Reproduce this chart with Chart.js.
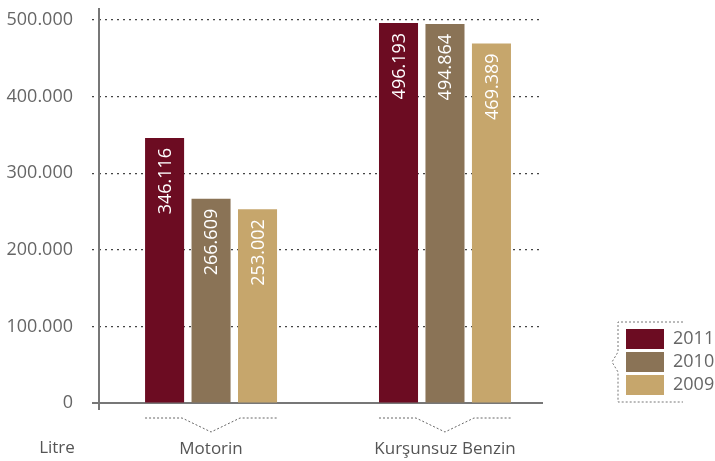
<!DOCTYPE html>
<html>
<head>
<meta charset="utf-8">
<script src="https://cdn.jsdelivr.net/npm/chart.js@4"></script>
<style>
  html, body { margin: 0; padding: 0; background: #fff; }
  #wrap { width: 715px; height: 461px; }
</style>
</head>
<body>
<div id="wrap"><canvas id="myChart" width="715" height="461"></canvas></div>
<script>
const categories = ["Motorin", "Kurşunsuz Benzin"];
const years = ["2011", "2010", "2009"];
const values2011 = [346116, 496193];
const values2010 = [266609, 494864];
const values2009 = [253002, 469389];
const yTicks = [0, 100000, 200000, 300000, 400000, 500000];
const unitLabel = "Litre";

const barColors = ["#6c0c22", "#8a7356", "#c6a66c"];
const FONT = "'Open Sans', sans-serif";

const fmt = (v) => v === 0 ? "0" : v.toLocaleString("de-DE");

const toPoints = (arr) => arr.map((v, i) => ({ x: i, y: v }));

// axis lines, labels on bars, brackets under the groups and the legend
const decor = {
  id: "decor",
  beforeDatasetsDraw(chart) {
    const { ctx, chartArea } = chart;
    const y0 = chart.scales.y.getPixelForValue(0);
    ctx.save();
    ctx.strokeStyle = "#777";
    ctx.lineWidth = 2;
    ctx.beginPath();
    ctx.moveTo(chartArea.left - 7, y0);
    ctx.lineTo(chartArea.right, y0);
    ctx.moveTo(chartArea.left, chartArea.top - 12);
    ctx.lineTo(chartArea.left, y0 + 7);
    ctx.stroke();
    ctx.restore();
  },
  afterDatasetsDraw(chart) {
    const { ctx } = chart;
    const y0 = chart.scales.y.getPixelForValue(0);
    ctx.save();
    // value labels
    ctx.fillStyle = "#fff";
    ctx.font = "18px " + FONT;
    ctx.textAlign = "right";
    ctx.textBaseline = "middle";
    chart.data.datasets.forEach((ds, di) => {
      chart.getDatasetMeta(di).data.forEach((bar, i) => {
        ctx.save();
        ctx.translate(bar.x + 1, bar.y + 10);
        ctx.rotate(-Math.PI / 2);
        ctx.fillText(fmt(ds.data[i].y), 0, 0);
        ctx.restore();
      });
    });
    // brackets
    const first = chart.getDatasetMeta(0).data;
    const last = chart.getDatasetMeta(chart.data.datasets.length - 1).data;
    ctx.strokeStyle = "#666";
    ctx.lineWidth = 1;
    ctx.setLineDash([2, 2]);
    categories.forEach((c, i) => {
      const l = first[i].x - first[i].width / 2;
      const r = last[i].x + last[i].width / 2;
      const m = chart.scales.x.getPixelForValue(i);
      const top = y0 + 15, bot = y0 + 29;
      ctx.beginPath();
      ctx.moveTo(l, top);
      ctx.lineTo(l + 37, top);
      ctx.lineTo(m, bot);
      ctx.lineTo(r - 37, top);
      ctx.lineTo(r, top);
      ctx.stroke();
    });
    ctx.restore();
  },
  afterDraw(chart) {
    const { ctx } = chart;
    ctx.save();
    // unit label
    ctx.fillStyle = "#555";
    ctx.font = "17px " + FONT;
    ctx.textAlign = "center";
    ctx.textBaseline = "middle";
    ctx.fillText(unitLabel, 57, 448);
    // legend
    const lx = 618, ly = 322, lw = 65, lh = 80;
    ctx.strokeStyle = "#777";
    ctx.lineWidth = 1;
    ctx.setLineDash([2, 2]);
    ctx.beginPath();
    ctx.moveTo(lx + lw, ly);
    ctx.lineTo(lx, ly);
    ctx.lineTo(lx, ly + 30);
    ctx.lineTo(lx - 6, ly + 40);
    ctx.lineTo(lx, ly + 50);
    ctx.lineTo(lx, ly + lh);
    ctx.lineTo(lx + lw, ly + lh);
    ctx.stroke();
    ctx.setLineDash([]);
    ctx.font = "18px " + FONT;
    ctx.textAlign = "left";
    chart.data.datasets.forEach((ds, i) => {
      const sy = 329 + i * 23;
      ctx.fillStyle = ds.backgroundColor;
      ctx.fillRect(626, sy, 38, 20);
      ctx.fillStyle = "#666";
      ctx.fillText(ds.label, 673, sy + 10);
    });
    ctx.restore();
  },
};

const ctx = document.getElementById("myChart");

const myChart = new Chart(ctx, {
  type: "bar",
  data: {
    datasets: [
      { label: years[0], data: toPoints(values2011), backgroundColor: barColors[0] },
      { label: years[1], data: toPoints(values2010), backgroundColor: barColors[1] },
      { label: years[2], data: toPoints(values2009), backgroundColor: barColors[2] },
    ],
  },
  options: {
    responsive: false,
    animation: false,
    layout: { padding: { top: 20, right: 172, left: 0, bottom: 0 } },
    datasets: {
      bar: { barPercentage: 0.84, categoryPercentage: 0.596 },
    },
    plugins: {
      legend: { display: false },
      tooltip: { enabled: false },
    },
    scales: {
      x: {
        type: "linear",
        offset: false,
        min: -0.479,
        max: 1.419,
        afterBuildTicks: (scale) => {
          scale.ticks = categories.map((c, i) => ({ value: i }));
        },
        afterFit: (scale) => {
          scale.height = 58;
          scale.paddingLeft = 0;
          scale.paddingRight = 0;
        },
        grid: { display: false, drawTicks: false },
        border: { display: false },
        ticks: {
          autoSkip: false,
          maxRotation: 0,
          padding: 36,
          color: "#555",
          font: { family: FONT, size: 17 },
          callback: (v) => categories[v] ?? "",
        },
      },
      y: {
        min: 0,
        max: 500000,
        afterBuildTicks: (scale) => {
          scale.ticks = yTicks.map((v) => ({ value: v }));
        },
        afterFit: (scale) => {
          scale.width = 99;
          scale.paddingTop = 0;
          scale.paddingBottom = 0;
        },
        grid: {
          color: "#444",
          lineWidth: 1.2,
          tickLength: 7,
          tickColor: "#444",
          tickBorderDash: [2, 4],
        },
        border: { display: false, dash: [2, 4] },
        ticks: {
          padding: 19,
          color: "#666",
          font: { family: FONT, size: 18 },
          callback: (v) => fmt(v),
        },
      },
    },
  },
  plugins: [decor],
});
</script>
</body>
</html>
